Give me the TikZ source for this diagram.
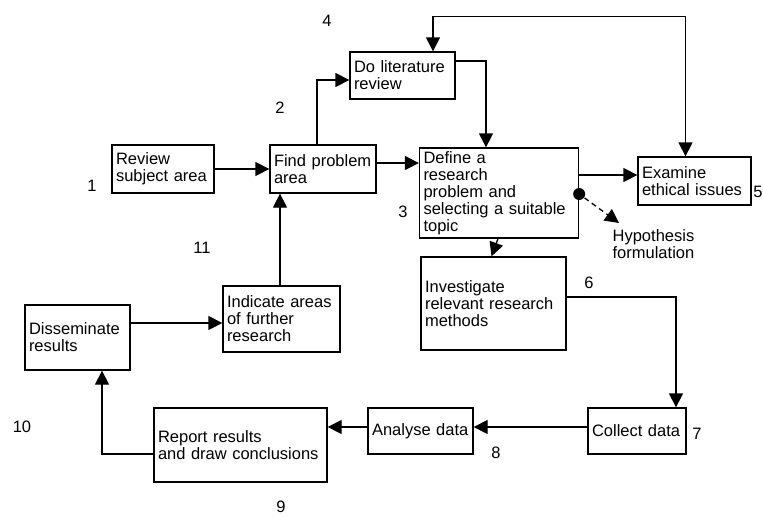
\documentclass[tikz,border=0pt]{standalone}
\usepackage{fontspec}
\setmainfont{Liberation Sans}
\usetikzlibrary{arrows.meta}

\begin{document}
\begin{tikzpicture}[x=1pt,y=-1pt,line width=1.3pt,
  >={Triangle[length=14pt,width=14pt]},
  font=\fontsize{16.5}{17}\selectfont,
  stepbox/.style={draw,align=left,inner xsep=4pt,inner ysep=0pt},
  num/.style={inner sep=0pt}]
  \useasboundingbox (0,0) rectangle (763,517);

  % the steps
  \node[stepbox,text width=94pt,minimum height=48pt]  (review)   at (163,169)   {Review\\subject area};
  \node[stepbox,text width=98pt,minimum height=48pt]  (find)     at (323,169)   {Find problem\\area};
  \node[stepbox,text width=97pt,minimum height=47pt]  (lit)      at (402.5,75.5) {Do literature\\review};
  \node[stepbox,text width=151pt,minimum height=90pt] (define)   at (499,193)   {Define a\\research\\problem and\\selecting a suitable\\topic};
  \node[stepbox,text width=105pt,minimum height=48pt] (ethics)   at (694.5,181) {Examine\\ethical issues};
  \node[stepbox,text width=137pt,minimum height=93pt] (invest)   at (493.5,303.5) {Investigate\\relevant research\\methods};
  \node[stepbox,text width=90pt,minimum height=46pt]  (collect)  at (637,431)   {Collect data};
  \node[stepbox,text width=97pt,minimum height=46pt]  (analyse)  at (420.5,431) {Analyse data};
  \node[stepbox,text width=165pt,minimum height=74pt] (report)   at (240.5,445) {Report results\\and draw conclusions};
  \node[stepbox,text width=97pt,minimum height=65pt]  (dissem)   at (77.5,337.5) {Disseminate\\results};
  \node[stepbox,text width=109pt,minimum height=66pt] (indicate) at (281.5,319) {Indicate areas\\of further\\research};

  \node[num,align=left,anchor=north west] (hyp) at (612,229) {Hypothesis\\formulation};
  \node[circle,fill,inner sep=0pt,minimum size=12pt] (hdot) at ([yshift=-1pt]define.east) {};

  % step numbers
  \node[num] (n1)  at (92,186)  {1};
  \node[num] (n2)  at (280,108) {2};
  \node[num] (n3)  at (403,212) {3};
  \node[num] (n4)  at (327,21)  {4};
  \node[num] (n5)  at (758,192) {5};
  \node[num] (n6)  at (589,283) {6};
  \node[num] (n7)  at (697,434) {7};
  \node[num] (n8)  at (496,453) {8};
  \node[num] (n9)  at (281,507) {9};
  \node[num] (n10) at (22,427)  {10};
  \node[num] (n11) at (202,248) {11};

  \coordinate (d3) at ([yshift=30pt]define.west);
  \coordinate (e5) at ([yshift=6pt]ethics.west);
  \coordinate (hend) at ([shift={(7,-6)}]hyp.north west);

  % connectors
  \draw[->] (review) -- (find);
  \draw[->] (d3 -| find.east) -- (d3);
  \draw[->] ([xshift=-6pt]find.north) |- ([yshift=-4.5pt]lit.west);
  \draw[->] ([yshift=14.5pt]lit.east) -| ([xshift=-13pt]define.north);
  \draw[<->] ([xshift=30.5pt]lit.north) -- ++(0,-35) -| ([xshift=-9pt]ethics.north);
  \draw[->] (e5 -| define.east) -- (e5);
  \draw[->,dash pattern=on 5pt off 4pt] (hdot) -- (hend);
  \draw[->] ([xshift=-1pt]define.south) -- ([xshift=-2pt]invest.north);
  \draw[->] ([yshift=6.5pt]invest.east) -| ([xshift=39pt]collect.north);
  \draw[->] ([yshift=4pt]collect.west) -- ([yshift=4pt]analyse.east);
  \draw[->] ([yshift=4pt]analyse.west) -- ([yshift=18pt]report.east);
  \draw[->] ([yshift=-9pt]report.west) -| ([xshift=24.5pt]dissem.south);
  \draw[->] ([yshift=14.5pt]dissem.east) -- ([yshift=-4pt]indicate.west);
  \draw[->] ([xshift=-1.5pt]indicate.north) -- ([xshift=-43pt]find.south);
\end{tikzpicture}
\end{document}
